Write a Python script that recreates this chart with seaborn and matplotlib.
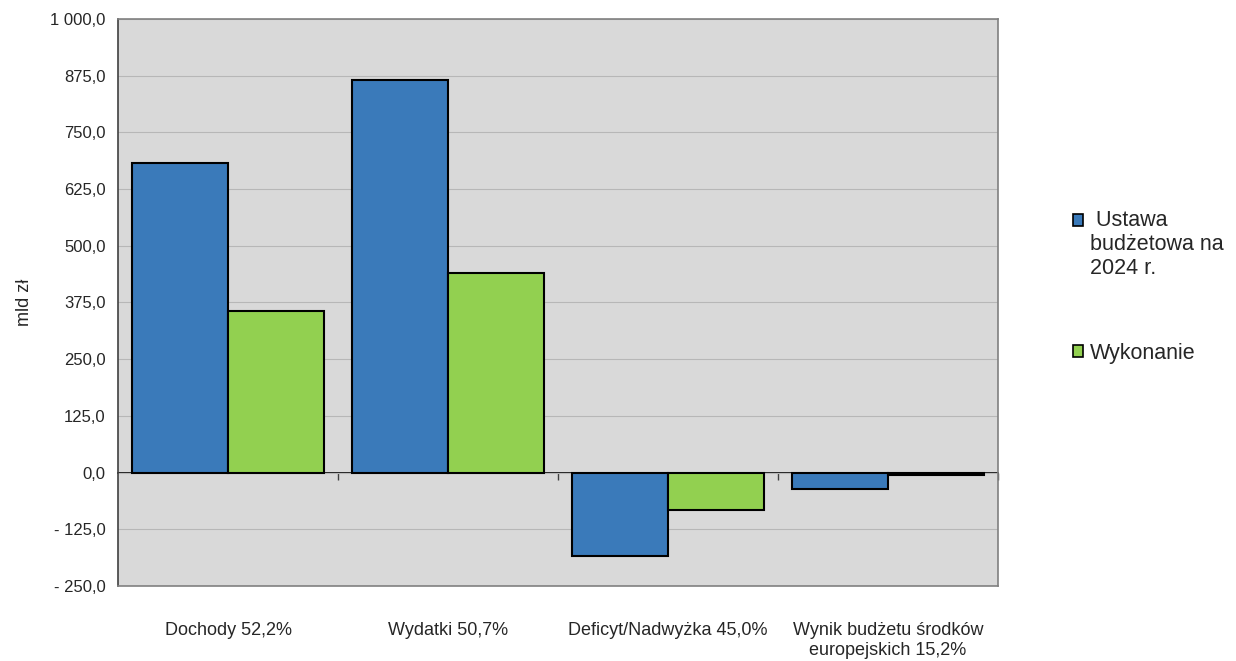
import matplotlib
matplotlib.use("Agg")
import matplotlib.pyplot as plt
import seaborn as sns
import pandas as pd
from matplotlib.patches import Patch, Rectangle
from matplotlib.legend_handler import HandlerPatch

categories = ["Dochody 52,2%", "Wydatki 50,7%", "Deficyt/Nadwyżka 45,0%",
              "Wynik budżetu środków\neuropejskich 15,2%"]
series_names = [" Ustawa\nbudżetowa na\n2024 r.", "Wykonanie"]
ustawa = [682.4, 866.4, -184.0, -35.3]
wykonanie = [356.2, 439.3, -82.8, -5.4]
yticks = [-250, -125, 0, 125, 250, 375, 500, 625, 750, 875, 1000]

colors = ["#3a7aba", "#92d050"]

df = pd.DataFrame({
    "cat": categories * 2,
    "series": [series_names[0]] * 4 + [series_names[1]] * 4,
    "value": ustawa + wykonanie,
})

sns.set_style("white")
plt.rcParams["font.family"] = ["Liberation Sans", "DejaVu Sans"]

fig = plt.figure(figsize=(12.36, 6.61), dpi=100)
ax = fig.add_axes([0.0955, 0.1135, 0.712, 0.8578])
ax.set_facecolor("#d9d9d9")

sns.barplot(data=df, x="cat", y="value", hue="series", palette=colors,
            width=0.873, edgecolor="black", linewidth=1.5, ax=ax,
            legend=False, saturation=1, zorder=3)

ax.set_ylim(-250, 1000)
ax.set_xlim(-0.5, 3.5)
ax.set_yticks(yticks)
def fmt(v):
    s = f"{abs(v):,.1f}".replace(",", " ").replace(".", ",")
    return ("- " + s) if v < 0 else s
ax.set_yticklabels([fmt(v) for v in yticks], fontsize=12)
ax.grid(axis="y", color="#b7b7b7", linewidth=0.8, zorder=0)
ax.set_axisbelow(True)
ax.tick_params(axis="y", direction="out", length=5, width=1, color="#404040", pad=4)
ax.tick_params(axis="x", length=0, pad=26, labelsize=13)
ax.set_xlabel("")
ax.set_ylabel("mld zł", fontsize=13, labelpad=12)
for s in ["top", "right", "bottom"]:
    ax.spines[s].set_color("#808080")
    ax.spines[s].set_linewidth(1.2)
ax.spines["left"].set_color("#404040")
ax.spines["left"].set_linewidth(1.2)

sec = ax.secondary_xaxis(0, transform=ax.transData)
sec.set_xticks([0.5, 1.5, 2.5, 3.5])
sec.set_xticklabels([])
sec.tick_params(direction="out", length=5, width=1, color="#404040")
sec.spines["bottom"].set_color("black")
sec.spines["bottom"].set_linewidth(1.2)


class TopHandler(HandlerPatch):
    def __init__(self, lines_up=0.0, **kw):
        super().__init__(**kw)
        self.lines_up = lines_up

    def create_artists(self, legend, orig_handle, xdescent, ydescent,
                       width, height, fontsize, trans):
        p = Rectangle(xy=(-xdescent, -ydescent + self.lines_up * fontsize),
                      width=width, height=height)
        self.update_prop(p, orig_handle, legend)
        p.set_transform(trans)
        return [p]


handles = [Patch(facecolor=colors[0], edgecolor="black", linewidth=1.2),
           Patch(facecolor=colors[1], edgecolor="black", linewidth=1.2)]
fig.legend(handles, series_names, loc="upper left", bbox_to_anchor=(0.8525, 0.712),
           frameon=False, fontsize=15.5, handlelength=0.47, handleheight=0.47,
           handletextpad=0.3, labelspacing=2.95,
           handler_map={handles[0]: TopHandler(lines_up=1.15),
                        handles[1]: TopHandler(lines_up=0.0)})

fig.savefig("out.png", dpi=100)
